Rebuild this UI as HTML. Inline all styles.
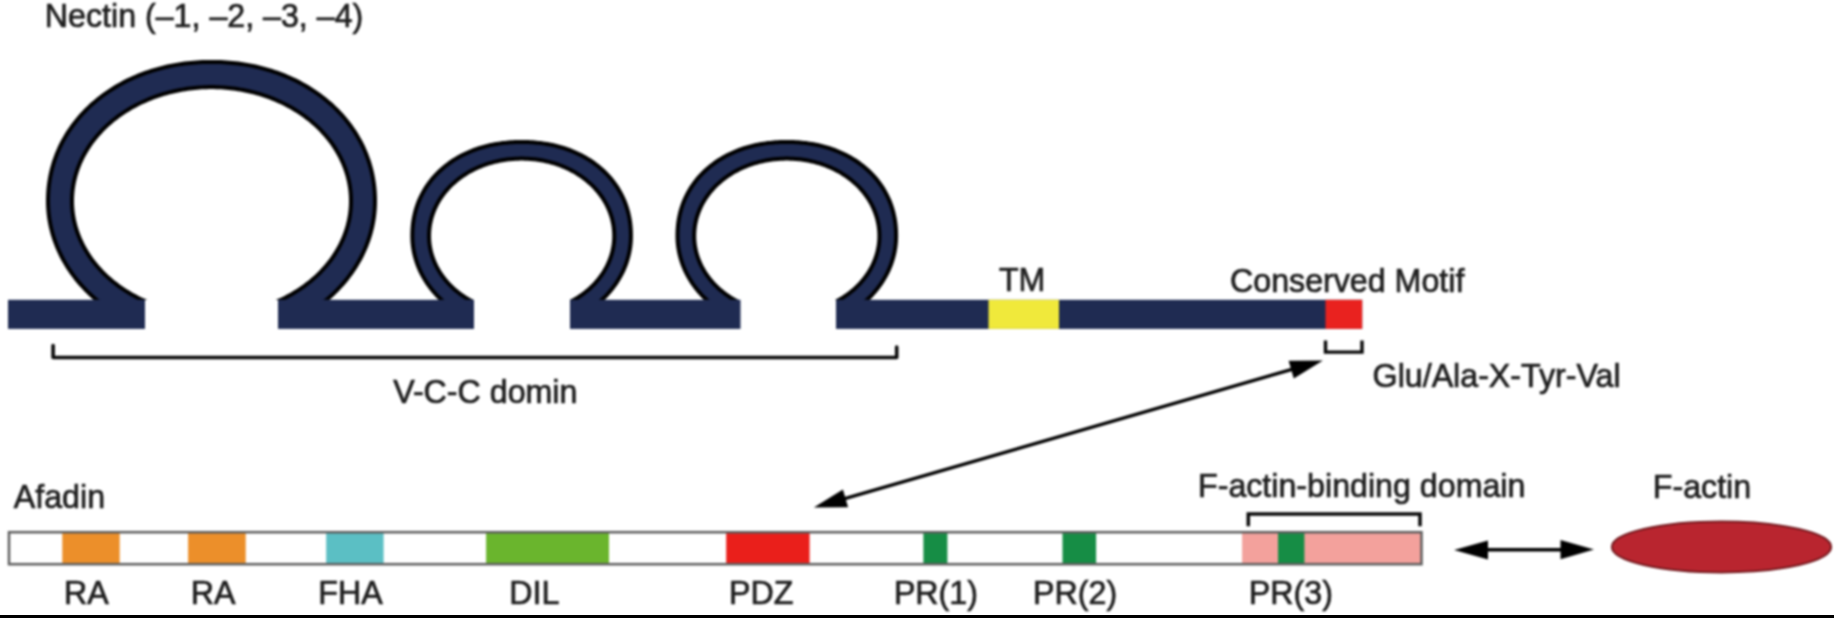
<!DOCTYPE html>
<html><head><meta charset="utf-8"><title>Nectin / Afadin</title>
<style>html,body{margin:0;padding:0;background:#fff;width:1834px;height:618px;overflow:hidden;position:relative}svg{display:block;filter:blur(1px)}
text{font-family:"Liberation Sans",sans-serif}</style></head>
<body><svg width="1834" height="618" viewBox="0 0 1834 618"><g><defs><clipPath id="cp"><rect x="0" y="0" width="1834" height="300"/></clipPath></defs><g clip-path="url(#cp)"><path d="M100.76,305.86 L98.63,304.19 L96.53,302.50 L94.47,300.77 L92.45,299.02 L90.46,297.23 L88.51,295.41 L86.60,293.57 L84.72,291.70 L82.88,289.80 L81.08,287.87 L79.33,285.92 L77.61,283.94 L75.93,281.93 L74.29,279.90 L72.70,277.85 L71.15,275.77 L69.64,273.67 L68.17,271.55 L66.75,269.41 L65.37,267.24 L64.04,265.06 L62.75,262.85 L61.51,260.63 L60.31,258.39 L59.16,256.13 L58.05,253.86 L56.99,251.57 L55.98,249.26 L55.02,246.94 L54.10,244.60 L53.23,242.25 L52.41,239.89 L51.64,237.52 L50.92,235.14 L50.24,232.74 L49.62,230.34 L49.04,227.92 L48.51,225.50 L48.04,223.07 L47.61,220.64 L47.23,218.20 L46.91,215.75 L46.63,213.30 L46.40,210.84 L46.23,208.38 L46.10,205.92 L46.03,203.46 L46.00,201.00 L46.00,201.00 L46.02,198.28 L46.10,195.66 L46.22,193.06 L46.39,190.50 L46.61,187.95 L46.88,185.42 L47.20,182.90 L47.57,180.40 L47.99,177.91 L48.45,175.43 L48.97,172.97 L49.53,170.52 L50.14,168.08 L50.80,165.66 L51.50,163.26 L52.26,160.87 L53.06,158.49 L53.91,156.13 L54.80,153.79 L55.74,151.46 L56.73,149.15 L57.77,146.86 L58.85,144.59 L59.97,142.34 L61.15,140.10 L62.36,137.89 L63.62,135.70 L64.93,133.52 L66.28,131.37 L67.67,129.25 L69.10,127.14 L70.58,125.06 L72.10,123.00 L73.67,120.97 L75.27,118.96 L76.91,116.98 L78.60,115.03 L80.32,113.10 L82.09,111.19 L83.89,109.32 L85.74,107.47 L87.62,105.66 L89.53,103.87 L91.49,102.11 L93.48,100.38 L95.51,98.68 L97.57,97.02 L99.67,95.38 L101.80,93.78 L103.97,92.21 L106.16,90.67 L108.40,89.16 L110.66,87.69 L112.95,86.26 L115.28,84.85 L117.63,83.49 L120.02,82.15 L122.43,80.86 L124.87,79.60 L127.34,78.37 L129.83,77.19 L132.36,76.04 L134.90,74.92 L137.48,73.85 L140.07,72.81 L142.69,71.81 L145.33,70.85 L148.00,69.93 L150.69,69.05 L153.39,68.21 L156.12,67.40 L158.87,66.64 L161.64,65.92 L164.43,65.24 L167.23,64.59 L170.05,63.99 L172.89,63.43 L175.75,62.91 L178.62,62.43 L181.51,61.99 L184.41,61.60 L187.33,61.24 L190.27,60.93 L193.22,60.65 L196.19,60.42 L199.18,60.24 L202.19,60.09 L205.23,59.98 L208.31,59.92 L211.50,59.90 L214.69,59.92 L217.77,59.98 L220.81,60.09 L223.82,60.24 L226.81,60.42 L229.78,60.65 L232.73,60.93 L235.67,61.24 L238.59,61.60 L241.49,61.99 L244.38,62.43 L247.25,62.91 L250.11,63.43 L252.95,63.99 L255.77,64.59 L258.57,65.24 L261.36,65.92 L264.13,66.64 L266.88,67.40 L269.61,68.21 L272.31,69.05 L275.00,69.93 L277.67,70.85 L280.31,71.81 L282.93,72.81 L285.52,73.85 L288.10,74.92 L290.64,76.04 L293.17,77.19 L295.66,78.37 L298.13,79.60 L300.57,80.86 L302.98,82.15 L305.37,83.49 L307.72,84.85 L310.05,86.26 L312.34,87.69 L314.60,89.16 L316.84,90.67 L319.03,92.21 L321.20,93.78 L323.33,95.38 L325.43,97.02 L327.49,98.68 L329.52,100.38 L331.51,102.11 L333.47,103.87 L335.38,105.66 L337.26,107.47 L339.11,109.32 L340.91,111.19 L342.68,113.10 L344.40,115.03 L346.09,116.98 L347.73,118.96 L349.33,120.97 L350.90,123.00 L352.42,125.06 L353.90,127.14 L355.33,129.25 L356.72,131.37 L358.07,133.52 L359.38,135.70 L360.64,137.89 L361.85,140.10 L363.03,142.34 L364.15,144.59 L365.23,146.86 L366.27,149.15 L367.26,151.46 L368.20,153.79 L369.09,156.13 L369.94,158.49 L370.74,160.87 L371.50,163.26 L372.20,165.66 L372.86,168.08 L373.47,170.52 L374.03,172.97 L374.55,175.43 L375.01,177.91 L375.43,180.40 L375.80,182.90 L376.12,185.42 L376.39,187.95 L376.61,190.50 L376.78,193.06 L376.90,195.66 L376.98,198.28 L377.00,201.00 L377.00,201.00 L376.97,203.46 L376.90,205.92 L376.77,208.38 L376.60,210.84 L376.37,213.30 L376.09,215.75 L375.77,218.20 L375.39,220.64 L374.96,223.07 L374.49,225.50 L373.96,227.92 L373.38,230.34 L372.76,232.74 L372.08,235.14 L371.36,237.52 L370.59,239.89 L369.77,242.25 L368.90,244.60 L367.98,246.94 L367.02,249.26 L366.01,251.57 L364.95,253.86 L363.84,256.13 L362.69,258.39 L361.49,260.63 L360.25,262.85 L358.96,265.06 L357.63,267.24 L356.25,269.41 L354.83,271.55 L353.36,273.67 L351.85,275.77 L350.30,277.85 L348.71,279.90 L347.07,281.93 L345.39,283.94 L343.67,285.92 L341.92,287.87 L340.12,289.80 L338.28,291.70 L336.40,293.57 L334.49,295.41 L332.54,297.23 L330.55,299.02 L328.53,300.77 L326.47,302.50 L324.37,304.19 L322.24,305.86 L322.24,306.00 L260.78,306.00 L260.78,305.47 L263.01,304.75 L265.23,304.00 L267.43,303.23 L269.61,302.42 L271.78,301.58 L273.92,300.70 L276.05,299.80 L278.16,298.87 L280.25,297.91 L282.32,296.92 L284.36,295.90 L286.39,294.85 L288.39,293.77 L290.37,292.66 L292.32,291.53 L294.25,290.37 L296.15,289.18 L298.03,287.96 L299.88,286.72 L301.71,285.45 L303.51,284.16 L305.27,282.84 L307.02,281.49 L308.73,280.13 L310.41,278.73 L312.06,277.32 L313.68,275.88 L315.27,274.41 L316.83,272.93 L318.36,271.42 L319.85,269.89 L321.31,268.34 L322.74,266.77 L324.13,265.18 L325.49,263.57 L326.82,261.95 L328.11,260.30 L329.36,258.63 L330.58,256.95 L331.76,255.25 L332.91,253.53 L334.01,251.80 L335.08,250.05 L336.12,248.29 L337.11,246.51 L338.07,244.72 L338.99,242.92 L339.87,241.10 L340.71,239.27 L341.51,237.43 L342.27,235.58 L342.99,233.72 L343.67,231.84 L344.31,229.96 L344.92,228.07 L345.48,226.17 L346.00,224.27 L346.47,222.35 L346.91,220.43 L347.31,218.51 L347.66,216.57 L347.98,214.64 L348.25,212.70 L348.48,210.75 L348.67,208.81 L348.81,206.86 L348.92,204.91 L348.98,202.95 L349.00,201.00 L349.00,201.00 L348.98,199.05 L348.92,197.09 L348.81,195.14 L348.67,193.19 L348.48,191.25 L348.25,189.30 L347.98,187.36 L347.66,185.43 L347.31,183.49 L346.91,181.57 L346.47,179.65 L346.00,177.73 L345.48,175.83 L344.92,173.93 L344.31,172.04 L343.67,170.16 L342.99,168.28 L342.27,166.42 L341.51,164.57 L340.71,162.73 L339.87,160.90 L338.99,159.08 L338.07,157.28 L337.11,155.49 L336.12,153.71 L335.08,151.95 L334.01,150.20 L332.91,148.47 L331.76,146.75 L330.58,145.05 L329.36,143.37 L328.11,141.70 L326.82,140.05 L325.49,138.43 L324.13,136.82 L322.74,135.23 L321.31,133.66 L319.85,132.11 L318.36,130.58 L316.83,129.07 L315.27,127.59 L313.68,126.12 L312.06,124.68 L310.41,123.27 L308.73,121.87 L307.02,120.51 L305.27,119.16 L303.51,117.84 L301.71,116.55 L299.88,115.28 L298.03,114.04 L296.15,112.82 L294.25,111.63 L292.32,110.47 L290.37,109.34 L288.39,108.23 L286.39,107.15 L284.36,106.10 L282.32,105.08 L280.25,104.09 L278.16,103.13 L276.05,102.20 L273.92,101.30 L271.78,100.42 L269.61,99.58 L267.43,98.77 L265.23,98.00 L263.01,97.25 L260.78,96.53 L258.53,95.85 L256.27,95.20 L253.99,94.58 L251.70,93.99 L249.40,93.43 L247.09,92.91 L244.76,92.42 L242.43,91.97 L240.09,91.55 L237.74,91.16 L235.38,90.80 L233.01,90.48 L230.64,90.19 L228.26,89.93 L225.87,89.71 L223.48,89.53 L221.09,89.37 L218.70,89.25 L216.30,89.17 L213.90,89.12 L211.50,89.10 L209.10,89.12 L206.70,89.17 L204.30,89.25 L201.91,89.37 L199.52,89.53 L197.13,89.71 L194.74,89.93 L192.36,90.19 L189.99,90.48 L187.62,90.80 L185.26,91.16 L182.91,91.55 L180.57,91.97 L178.24,92.42 L175.91,92.91 L173.60,93.43 L171.30,93.99 L169.01,94.58 L166.73,95.20 L164.47,95.85 L162.22,96.53 L159.99,97.25 L157.77,98.00 L155.57,98.77 L153.39,99.58 L151.22,100.42 L149.08,101.30 L146.95,102.20 L144.84,103.13 L142.75,104.09 L140.68,105.08 L138.64,106.10 L136.61,107.15 L134.61,108.23 L132.63,109.34 L130.68,110.47 L128.75,111.63 L126.85,112.82 L124.97,114.04 L123.12,115.28 L121.29,116.55 L119.49,117.84 L117.73,119.16 L115.98,120.51 L114.27,121.87 L112.59,123.27 L110.94,124.68 L109.32,126.12 L107.73,127.59 L106.17,129.07 L104.64,130.58 L103.15,132.11 L101.69,133.66 L100.26,135.23 L98.87,136.82 L97.51,138.43 L96.18,140.05 L94.89,141.70 L93.64,143.37 L92.42,145.05 L91.24,146.75 L90.09,148.47 L88.99,150.20 L87.92,151.95 L86.88,153.71 L85.89,155.49 L84.93,157.28 L84.01,159.08 L83.13,160.90 L82.29,162.73 L81.49,164.57 L80.73,166.42 L80.01,168.28 L79.33,170.16 L78.69,172.04 L78.08,173.93 L77.52,175.83 L77.00,177.73 L76.53,179.65 L76.09,181.57 L75.69,183.49 L75.34,185.43 L75.02,187.36 L74.75,189.30 L74.52,191.25 L74.33,193.19 L74.19,195.14 L74.08,197.09 L74.02,199.05 L74.00,201.00 L74.00,201.00 L74.02,202.95 L74.08,204.91 L74.19,206.86 L74.33,208.81 L74.52,210.75 L74.75,212.70 L75.02,214.64 L75.34,216.57 L75.69,218.51 L76.09,220.43 L76.53,222.35 L77.00,224.27 L77.52,226.17 L78.08,228.07 L78.69,229.96 L79.33,231.84 L80.01,233.72 L80.73,235.58 L81.49,237.43 L82.29,239.27 L83.13,241.10 L84.01,242.92 L84.93,244.72 L85.89,246.51 L86.88,248.29 L87.92,250.05 L88.99,251.80 L90.09,253.53 L91.24,255.25 L92.42,256.95 L93.64,258.63 L94.89,260.30 L96.18,261.95 L97.51,263.57 L98.87,265.18 L100.26,266.77 L101.69,268.34 L103.15,269.89 L104.64,271.42 L106.17,272.93 L107.73,274.41 L109.32,275.88 L110.94,277.32 L112.59,278.73 L114.27,280.13 L115.98,281.49 L117.73,282.84 L119.49,284.16 L121.29,285.45 L123.12,286.72 L124.97,287.96 L126.85,289.18 L128.75,290.37 L130.68,291.53 L132.63,292.66 L134.61,293.77 L136.61,294.85 L138.64,295.90 L140.68,296.92 L142.75,297.91 L144.84,298.87 L146.95,299.80 L149.08,300.70 L151.22,301.58 L153.39,302.42 L155.57,303.23 L157.77,304.00 L159.99,304.75 L162.22,305.47 L162.22,306.00 L100.76,306.00 Z" fill="#000"/><path d="M105.55,304.47 L103.44,302.89 L101.36,301.27 L99.31,299.62 L97.30,297.94 L95.33,296.24 L93.39,294.50 L91.48,292.74 L89.61,290.95 L87.78,289.13 L85.99,287.28 L84.24,285.41 L82.52,283.51 L80.84,281.59 L79.21,279.64 L77.61,277.67 L76.05,275.67 L74.54,273.65 L73.07,271.61 L71.64,269.55 L70.25,267.47 L68.90,265.36 L67.60,263.24 L66.34,261.10 L65.13,258.94 L63.96,256.76 L62.84,254.57 L61.76,252.36 L60.73,250.13 L59.74,247.89 L58.80,245.64 L57.90,243.37 L57.06,241.08 L56.26,238.79 L55.50,236.48 L54.80,234.17 L54.14,231.84 L53.53,229.50 L52.97,227.16 L52.45,224.81 L51.99,222.45 L51.57,220.08 L51.20,217.71 L50.88,215.33 L50.61,212.95 L50.39,210.56 L50.22,208.18 L50.10,205.78 L50.02,203.39 L50.00,201.00 L50.00,201.00 L50.02,198.36 L50.10,195.81 L50.22,193.29 L50.38,190.79 L50.60,188.32 L50.86,185.86 L51.17,183.41 L51.53,180.98 L51.94,178.56 L52.39,176.15 L52.90,173.76 L53.44,171.38 L54.04,169.02 L54.68,166.66 L55.37,164.33 L56.11,162.00 L56.89,159.70 L57.72,157.40 L58.59,155.13 L59.51,152.87 L60.47,150.62 L61.48,148.40 L62.54,146.19 L63.64,144.00 L64.78,141.83 L65.97,139.68 L67.20,137.55 L68.47,135.44 L69.79,133.35 L71.15,131.28 L72.55,129.24 L73.99,127.21 L75.47,125.22 L77.00,123.24 L78.56,121.29 L80.17,119.36 L81.81,117.46 L83.49,115.59 L85.22,113.74 L86.98,111.92 L88.77,110.12 L90.61,108.36 L92.48,106.62 L94.39,104.91 L96.33,103.23 L98.31,101.58 L100.32,99.96 L102.37,98.37 L104.45,96.82 L106.56,95.29 L108.71,93.80 L110.89,92.33 L113.10,90.90 L115.33,89.51 L117.60,88.15 L119.90,86.82 L122.23,85.52 L124.58,84.26 L126.96,83.04 L129.37,81.85 L131.81,80.70 L134.27,79.58 L136.75,78.50 L139.26,77.45 L141.80,76.45 L144.35,75.48 L146.93,74.54 L149.53,73.65 L152.16,72.79 L154.80,71.97 L157.46,71.19 L160.14,70.45 L162.84,69.75 L165.56,69.08 L168.30,68.46 L171.05,67.87 L173.82,67.33 L176.61,66.82 L179.41,66.36 L182.23,65.93 L185.07,65.55 L187.92,65.20 L190.78,64.90 L193.66,64.63 L196.56,64.41 L199.48,64.23 L202.42,64.08 L205.38,63.98 L208.39,63.92 L211.50,63.90 L214.61,63.92 L217.62,63.98 L220.58,64.08 L223.52,64.23 L226.44,64.41 L229.34,64.63 L232.22,64.90 L235.08,65.20 L237.93,65.55 L240.77,65.93 L243.59,66.36 L246.39,66.82 L249.18,67.33 L251.95,67.87 L254.70,68.46 L257.44,69.08 L260.16,69.75 L262.86,70.45 L265.54,71.19 L268.20,71.97 L270.84,72.79 L273.47,73.65 L276.07,74.54 L278.65,75.48 L281.20,76.45 L283.74,77.45 L286.25,78.50 L288.73,79.58 L291.19,80.70 L293.63,81.85 L296.04,83.04 L298.42,84.26 L300.77,85.52 L303.10,86.82 L305.40,88.15 L307.67,89.51 L309.90,90.90 L312.11,92.33 L314.29,93.80 L316.44,95.29 L318.55,96.82 L320.63,98.37 L322.68,99.96 L324.69,101.58 L326.67,103.23 L328.61,104.91 L330.52,106.62 L332.39,108.36 L334.23,110.12 L336.02,111.92 L337.78,113.74 L339.51,115.59 L341.19,117.46 L342.83,119.36 L344.44,121.29 L346.00,123.24 L347.53,125.22 L349.01,127.21 L350.45,129.24 L351.85,131.28 L353.21,133.35 L354.53,135.44 L355.80,137.55 L357.03,139.68 L358.22,141.83 L359.36,144.00 L360.46,146.19 L361.52,148.40 L362.53,150.62 L363.49,152.87 L364.41,155.13 L365.28,157.40 L366.11,159.70 L366.89,162.00 L367.63,164.33 L368.32,166.66 L368.96,169.02 L369.56,171.38 L370.10,173.76 L370.61,176.15 L371.06,178.56 L371.47,180.98 L371.83,183.41 L372.14,185.86 L372.40,188.32 L372.62,190.79 L372.78,193.29 L372.90,195.81 L372.98,198.36 L373.00,201.00 L373.00,201.00 L372.98,203.39 L372.90,205.78 L372.78,208.18 L372.61,210.56 L372.39,212.95 L372.12,215.33 L371.80,217.71 L371.43,220.08 L371.01,222.45 L370.55,224.81 L370.03,227.16 L369.47,229.50 L368.86,231.84 L368.20,234.17 L367.50,236.48 L366.74,238.79 L365.94,241.08 L365.10,243.37 L364.20,245.64 L363.26,247.89 L362.27,250.13 L361.24,252.36 L360.16,254.57 L359.04,256.76 L357.87,258.94 L356.66,261.10 L355.40,263.24 L354.10,265.36 L352.75,267.47 L351.36,269.55 L349.93,271.61 L348.46,273.65 L346.95,275.67 L345.39,277.67 L343.79,279.64 L342.16,281.59 L340.48,283.51 L338.76,285.41 L337.01,287.28 L335.22,289.13 L333.39,290.95 L331.52,292.74 L329.61,294.50 L327.67,296.24 L325.70,297.94 L323.69,299.62 L321.64,301.27 L319.56,302.89 L317.45,304.47 L317.45,306.00 L273.53,306.00 L273.53,305.17 L275.74,304.27 L277.93,303.33 L280.10,302.37 L282.25,301.37 L284.38,300.35 L286.48,299.29 L288.57,298.20 L290.63,297.09 L292.66,295.94 L294.67,294.77 L296.66,293.56 L298.62,292.33 L300.55,291.07 L302.45,289.78 L304.33,288.47 L306.18,287.13 L308.00,285.76 L309.79,284.37 L311.56,282.95 L313.29,281.51 L314.99,280.04 L316.65,278.55 L318.29,277.04 L319.90,275.50 L321.47,273.94 L323.00,272.36 L324.51,270.75 L325.98,269.12 L327.41,267.48 L328.81,265.81 L330.17,264.12 L331.50,262.42 L332.79,260.69 L334.04,258.95 L335.26,257.19 L336.44,255.41 L337.58,253.62 L338.68,251.81 L339.74,249.98 L340.77,248.14 L341.75,246.29 L342.70,244.42 L343.60,242.53 L344.47,240.64 L345.29,238.73 L346.07,236.82 L346.82,234.89 L347.52,232.95 L348.18,231.00 L348.80,229.04 L349.37,227.07 L349.91,225.10 L350.40,223.11 L350.85,221.13 L351.26,219.13 L351.62,217.13 L351.95,215.12 L352.22,213.11 L352.46,211.10 L352.66,209.08 L352.81,207.07 L352.91,205.04 L352.98,203.02 L353.00,201.00 L353.00,201.00 L352.98,198.98 L352.91,196.96 L352.81,194.93 L352.66,192.92 L352.46,190.90 L352.22,188.89 L351.95,186.88 L351.62,184.87 L351.26,182.87 L350.85,180.87 L350.40,178.89 L349.91,176.90 L349.37,174.93 L348.80,172.96 L348.18,171.00 L347.52,169.05 L346.82,167.11 L346.07,165.18 L345.29,163.27 L344.47,161.36 L343.60,159.47 L342.70,157.58 L341.75,155.71 L340.77,153.86 L339.74,152.02 L338.68,150.19 L337.58,148.38 L336.44,146.59 L335.26,144.81 L334.04,143.05 L332.79,141.31 L331.50,139.58 L330.17,137.88 L328.81,136.19 L327.41,134.52 L325.98,132.88 L324.51,131.25 L323.00,129.64 L321.47,128.06 L319.90,126.50 L318.29,124.96 L316.65,123.45 L314.99,121.96 L313.29,120.49 L311.56,119.05 L309.79,117.63 L308.00,116.24 L306.18,114.87 L304.33,113.53 L302.45,112.22 L300.55,110.93 L298.62,109.67 L296.66,108.44 L294.67,107.23 L292.66,106.06 L290.63,104.91 L288.57,103.80 L286.48,102.71 L284.38,101.65 L282.25,100.63 L280.10,99.63 L277.93,98.67 L275.74,97.73 L273.53,96.83 L271.30,95.96 L269.05,95.12 L266.79,94.31 L264.51,93.54 L262.21,92.80 L259.90,92.09 L257.57,91.41 L255.23,90.77 L252.87,90.16 L250.50,89.59 L248.12,89.05 L245.73,88.54 L243.33,88.07 L240.92,87.63 L238.50,87.23 L236.07,86.86 L233.64,86.53 L231.19,86.23 L228.74,85.96 L226.29,85.73 L223.83,85.54 L221.37,85.38 L218.91,85.26 L216.44,85.17 L213.97,85.12 L211.50,85.10 L209.03,85.12 L206.56,85.17 L204.09,85.26 L201.63,85.38 L199.17,85.54 L196.71,85.73 L194.26,85.96 L191.81,86.23 L189.36,86.53 L186.93,86.86 L184.50,87.23 L182.08,87.63 L179.67,88.07 L177.27,88.54 L174.88,89.05 L172.50,89.59 L170.13,90.16 L167.77,90.77 L165.43,91.41 L163.10,92.09 L160.79,92.80 L158.49,93.54 L156.21,94.31 L153.95,95.12 L151.70,95.96 L149.47,96.83 L147.26,97.73 L145.07,98.67 L142.90,99.63 L140.75,100.63 L138.62,101.65 L136.52,102.71 L134.43,103.80 L132.37,104.91 L130.34,106.06 L128.33,107.23 L126.34,108.44 L124.38,109.67 L122.45,110.93 L120.55,112.22 L118.67,113.53 L116.82,114.87 L115.00,116.24 L113.21,117.63 L111.44,119.05 L109.71,120.49 L108.01,121.96 L106.35,123.45 L104.71,124.96 L103.10,126.50 L101.53,128.06 L100.00,129.64 L98.49,131.25 L97.02,132.88 L95.59,134.52 L94.19,136.19 L92.83,137.88 L91.50,139.58 L90.21,141.31 L88.96,143.05 L87.74,144.81 L86.56,146.59 L85.42,148.38 L84.32,150.19 L83.26,152.02 L82.23,153.86 L81.25,155.71 L80.30,157.58 L79.40,159.47 L78.53,161.36 L77.71,163.27 L76.93,165.18 L76.18,167.11 L75.48,169.05 L74.82,171.00 L74.20,172.96 L73.63,174.93 L73.09,176.90 L72.60,178.89 L72.15,180.87 L71.74,182.87 L71.38,184.87 L71.05,186.88 L70.78,188.89 L70.54,190.90 L70.34,192.92 L70.19,194.93 L70.09,196.96 L70.02,198.98 L70.00,201.00 L70.00,201.00 L70.02,203.02 L70.09,205.04 L70.19,207.07 L70.34,209.08 L70.54,211.10 L70.78,213.11 L71.05,215.12 L71.38,217.13 L71.74,219.13 L72.15,221.13 L72.60,223.11 L73.09,225.10 L73.63,227.07 L74.20,229.04 L74.82,231.00 L75.48,232.95 L76.18,234.89 L76.93,236.82 L77.71,238.73 L78.53,240.64 L79.40,242.53 L80.30,244.42 L81.25,246.29 L82.23,248.14 L83.26,249.98 L84.32,251.81 L85.42,253.62 L86.56,255.41 L87.74,257.19 L88.96,258.95 L90.21,260.69 L91.50,262.42 L92.83,264.12 L94.19,265.81 L95.59,267.48 L97.02,269.12 L98.49,270.75 L100.00,272.36 L101.53,273.94 L103.10,275.50 L104.71,277.04 L106.35,278.55 L108.01,280.04 L109.71,281.51 L111.44,282.95 L113.21,284.37 L115.00,285.76 L116.82,287.13 L118.67,288.47 L120.55,289.78 L122.45,291.07 L124.38,292.33 L126.34,293.56 L128.33,294.77 L130.34,295.94 L132.37,297.09 L134.43,298.20 L136.52,299.29 L138.62,300.35 L140.75,301.37 L142.90,302.37 L145.07,303.33 L147.26,304.27 L149.47,305.17 L149.47,306.00 L105.55,306.00 Z" fill="#1f2b52"/><path d="M444.33,305.06 L442.95,303.88 L441.59,302.69 L440.25,301.47 L438.94,300.24 L437.65,298.98 L436.39,297.71 L435.15,296.41 L433.94,295.10 L432.76,293.77 L431.61,292.43 L430.48,291.06 L429.38,289.68 L428.31,288.29 L427.26,286.87 L426.25,285.44 L425.26,284.00 L424.30,282.54 L423.38,281.07 L422.48,279.58 L421.61,278.08 L420.78,276.57 L419.97,275.05 L419.20,273.51 L418.45,271.96 L417.74,270.40 L417.06,268.83 L416.41,267.25 L415.80,265.67 L415.21,264.07 L414.66,262.46 L414.14,260.85 L413.66,259.22 L413.20,257.60 L412.78,255.96 L412.39,254.32 L412.04,252.67 L411.72,251.02 L411.43,249.36 L411.18,247.70 L410.96,246.03 L410.77,244.37 L410.62,242.70 L410.50,241.02 L410.42,239.35 L410.37,237.68 L410.35,236.00 L410.35,236.00 L410.37,233.89 L410.41,231.95 L410.49,230.06 L410.61,228.21 L410.75,226.39 L410.93,224.60 L411.13,222.82 L411.37,221.06 L411.64,219.32 L411.95,217.59 L412.28,215.88 L412.65,214.18 L413.04,212.50 L413.47,210.83 L413.93,209.18 L414.42,207.54 L414.94,205.91 L415.50,204.30 L416.08,202.70 L416.69,201.11 L417.34,199.54 L418.01,197.98 L418.72,196.44 L419.45,194.91 L420.21,193.40 L421.01,191.91 L421.83,190.42 L422.68,188.96 L423.56,187.51 L424.47,186.08 L425.41,184.66 L426.38,183.27 L427.37,181.89 L428.39,180.52 L429.44,179.18 L430.52,177.85 L431.62,176.54 L432.75,175.25 L433.91,173.98 L435.09,172.73 L436.30,171.50 L437.54,170.29 L438.80,169.09 L440.08,167.92 L441.39,166.77 L442.72,165.64 L444.08,164.54 L445.46,163.45 L446.87,162.38 L448.30,161.34 L449.75,160.32 L451.22,159.32 L452.71,158.35 L454.23,157.40 L455.77,156.47 L457.33,155.56 L458.91,154.68 L460.51,153.82 L462.13,152.99 L463.77,152.18 L465.43,151.40 L467.11,150.64 L468.81,149.90 L470.53,149.19 L472.26,148.51 L474.02,147.85 L475.79,147.22 L477.57,146.61 L479.38,146.03 L481.20,145.47 L483.04,144.94 L484.89,144.44 L486.76,143.96 L488.65,143.51 L490.55,143.09 L492.47,142.69 L494.41,142.32 L496.36,141.98 L498.33,141.66 L500.31,141.38 L502.31,141.12 L504.33,140.88 L506.37,140.68 L508.43,140.50 L510.51,140.34 L512.62,140.22 L514.77,140.12 L516.95,140.06 L519.21,140.01 L521.65,140.00 L524.09,140.01 L526.35,140.06 L528.53,140.12 L530.68,140.22 L532.79,140.34 L534.87,140.50 L536.93,140.68 L538.97,140.88 L540.99,141.12 L542.99,141.38 L544.97,141.66 L546.94,141.98 L548.89,142.32 L550.83,142.69 L552.75,143.09 L554.65,143.51 L556.54,143.96 L558.41,144.44 L560.26,144.94 L562.10,145.47 L563.92,146.03 L565.73,146.61 L567.51,147.22 L569.28,147.85 L571.04,148.51 L572.77,149.19 L574.49,149.90 L576.19,150.64 L577.87,151.40 L579.53,152.18 L581.17,152.99 L582.79,153.82 L584.39,154.68 L585.97,155.56 L587.53,156.47 L589.07,157.40 L590.59,158.35 L592.08,159.32 L593.55,160.32 L595.00,161.34 L596.43,162.38 L597.84,163.45 L599.22,164.54 L600.58,165.64 L601.91,166.77 L603.22,167.92 L604.50,169.09 L605.76,170.29 L607.00,171.50 L608.21,172.73 L609.39,173.98 L610.55,175.25 L611.68,176.54 L612.78,177.85 L613.86,179.18 L614.91,180.52 L615.93,181.89 L616.92,183.27 L617.89,184.66 L618.83,186.08 L619.74,187.51 L620.62,188.96 L621.47,190.42 L622.29,191.91 L623.09,193.40 L623.85,194.91 L624.58,196.44 L625.29,197.98 L625.96,199.54 L626.61,201.11 L627.22,202.70 L627.80,204.30 L628.36,205.91 L628.88,207.54 L629.37,209.18 L629.83,210.83 L630.26,212.50 L630.65,214.18 L631.02,215.88 L631.35,217.59 L631.66,219.32 L631.93,221.06 L632.17,222.82 L632.37,224.60 L632.55,226.39 L632.69,228.21 L632.81,230.06 L632.89,231.95 L632.93,233.89 L632.95,236.00 L632.95,236.00 L632.93,237.68 L632.88,239.35 L632.80,241.02 L632.68,242.70 L632.53,244.37 L632.34,246.03 L632.12,247.70 L631.87,249.36 L631.58,251.02 L631.26,252.67 L630.91,254.32 L630.52,255.96 L630.10,257.60 L629.64,259.22 L629.16,260.85 L628.64,262.46 L628.09,264.07 L627.50,265.67 L626.89,267.25 L626.24,268.83 L625.56,270.40 L624.85,271.96 L624.10,273.51 L623.33,275.05 L622.52,276.57 L621.69,278.08 L620.82,279.58 L619.92,281.07 L619.00,282.54 L618.04,284.00 L617.05,285.44 L616.04,286.87 L614.99,288.29 L613.92,289.68 L612.82,291.06 L611.69,292.43 L610.54,293.77 L609.36,295.10 L608.15,296.41 L606.91,297.71 L605.65,298.98 L604.36,300.24 L603.05,301.47 L601.71,302.69 L600.35,303.88 L598.97,305.06 L598.97,306.00 L555.59,306.00 L555.59,305.91 L557.05,305.41 L558.50,304.88 L559.94,304.34 L561.37,303.77 L562.78,303.18 L564.18,302.57 L565.57,301.95 L566.95,301.30 L568.31,300.63 L569.66,299.94 L570.99,299.24 L572.31,298.51 L573.62,297.76 L574.90,297.00 L576.17,296.22 L577.43,295.42 L578.67,294.60 L579.89,293.76 L581.09,292.91 L582.27,292.03 L583.44,291.14 L584.59,290.24 L585.71,289.32 L586.82,288.38 L587.91,287.42 L588.98,286.45 L590.03,285.47 L591.05,284.47 L592.06,283.45 L593.04,282.42 L594.01,281.38 L594.95,280.32 L595.87,279.25 L596.76,278.16 L597.63,277.07 L598.48,275.96 L599.31,274.83 L600.11,273.70 L600.89,272.55 L601.65,271.40 L602.38,270.23 L603.08,269.05 L603.76,267.87 L604.42,266.67 L605.05,265.46 L605.65,264.25 L606.23,263.02 L606.79,261.79 L607.31,260.55 L607.82,259.30 L608.29,258.04 L608.74,256.78 L609.16,255.51 L609.56,254.24 L609.93,252.96 L610.27,251.68 L610.59,250.39 L610.87,249.09 L611.13,247.80 L611.37,246.49 L611.57,245.19 L611.75,243.88 L611.91,242.57 L612.03,241.26 L612.13,239.95 L612.19,238.63 L612.24,237.32 L612.25,236.00 L612.25,236.00 L612.24,234.63 L612.20,233.28 L612.13,231.94 L612.03,230.60 L611.91,229.27 L611.76,227.94 L611.58,226.62 L611.38,225.30 L611.15,223.99 L610.89,222.68 L610.60,221.38 L610.29,220.08 L609.95,218.79 L609.59,217.50 L609.19,216.22 L608.77,214.95 L608.33,213.69 L607.86,212.43 L607.36,211.18 L606.84,209.94 L606.29,208.70 L605.72,207.48 L605.12,206.26 L604.49,205.06 L603.84,203.86 L603.17,202.68 L602.47,201.50 L601.74,200.34 L601.00,199.18 L600.22,198.04 L599.43,196.91 L598.61,195.79 L597.77,194.69 L596.90,193.59 L596.01,192.51 L595.10,191.45 L594.17,190.39 L593.21,189.36 L592.24,188.33 L591.24,187.32 L590.22,186.33 L589.18,185.35 L588.12,184.38 L587.04,183.43 L585.93,182.50 L584.81,181.58 L583.67,180.68 L582.51,179.80 L581.34,178.94 L580.14,178.09 L578.93,177.26 L577.70,176.44 L576.45,175.65 L575.18,174.87 L573.90,174.11 L572.61,173.37 L571.29,172.65 L569.96,171.95 L568.62,171.27 L567.26,170.61 L565.89,169.97 L564.50,169.34 L563.10,168.74 L561.69,168.16 L560.27,167.60 L558.83,167.06 L557.38,166.54 L555.92,166.04 L554.45,165.56 L552.97,165.10 L551.48,164.67 L549.97,164.25 L548.46,163.86 L546.94,163.49 L545.41,163.14 L543.88,162.82 L542.33,162.51 L540.78,162.23 L539.22,161.97 L537.66,161.73 L536.09,161.52 L534.51,161.33 L532.92,161.16 L531.33,161.01 L529.74,160.88 L528.14,160.78 L526.53,160.70 L524.92,160.65 L523.30,160.61 L521.65,160.60 L520.00,160.61 L518.38,160.65 L516.77,160.70 L515.16,160.78 L513.56,160.88 L511.97,161.01 L510.38,161.16 L508.79,161.33 L507.21,161.52 L505.64,161.73 L504.08,161.97 L502.52,162.23 L500.97,162.51 L499.42,162.82 L497.89,163.14 L496.36,163.49 L494.84,163.86 L493.33,164.25 L491.82,164.67 L490.33,165.10 L488.85,165.56 L487.38,166.04 L485.92,166.54 L484.47,167.06 L483.03,167.60 L481.61,168.16 L480.20,168.74 L478.80,169.34 L477.41,169.97 L476.04,170.61 L474.68,171.27 L473.34,171.95 L472.01,172.65 L470.69,173.37 L469.40,174.11 L468.12,174.87 L466.85,175.65 L465.60,176.44 L464.37,177.26 L463.16,178.09 L461.96,178.94 L460.79,179.80 L459.63,180.68 L458.49,181.58 L457.37,182.50 L456.26,183.43 L455.18,184.38 L454.12,185.35 L453.08,186.33 L452.06,187.32 L451.06,188.33 L450.09,189.36 L449.13,190.39 L448.20,191.45 L447.29,192.51 L446.40,193.59 L445.53,194.69 L444.69,195.79 L443.87,196.91 L443.08,198.04 L442.30,199.18 L441.56,200.34 L440.83,201.50 L440.13,202.68 L439.46,203.86 L438.81,205.06 L438.18,206.26 L437.58,207.48 L437.01,208.70 L436.46,209.94 L435.94,211.18 L435.44,212.43 L434.97,213.69 L434.53,214.95 L434.11,216.22 L433.71,217.50 L433.35,218.79 L433.01,220.08 L432.70,221.38 L432.41,222.68 L432.15,223.99 L431.92,225.30 L431.72,226.62 L431.54,227.94 L431.39,229.27 L431.27,230.60 L431.17,231.94 L431.10,233.28 L431.06,234.63 L431.05,236.00 L431.05,236.00 L431.06,237.32 L431.11,238.63 L431.17,239.95 L431.27,241.26 L431.39,242.57 L431.55,243.88 L431.73,245.19 L431.93,246.49 L432.17,247.80 L432.43,249.09 L432.71,250.39 L433.03,251.68 L433.37,252.96 L433.74,254.24 L434.14,255.51 L434.56,256.78 L435.01,258.04 L435.48,259.30 L435.99,260.55 L436.51,261.79 L437.07,263.02 L437.65,264.25 L438.25,265.46 L438.88,266.67 L439.54,267.87 L440.22,269.05 L440.92,270.23 L441.65,271.40 L442.41,272.55 L443.19,273.70 L443.99,274.83 L444.82,275.96 L445.67,277.07 L446.54,278.16 L447.43,279.25 L448.35,280.32 L449.29,281.38 L450.26,282.42 L451.24,283.45 L452.25,284.47 L453.27,285.47 L454.32,286.45 L455.39,287.42 L456.48,288.38 L457.59,289.32 L458.71,290.24 L459.86,291.14 L461.03,292.03 L462.21,292.91 L463.41,293.76 L464.63,294.60 L465.87,295.42 L467.13,296.22 L468.40,297.00 L469.68,297.76 L470.99,298.51 L472.31,299.24 L473.64,299.94 L474.99,300.63 L476.35,301.30 L477.73,301.95 L479.12,302.57 L480.52,303.18 L481.93,303.77 L483.36,304.34 L484.80,304.88 L486.25,305.41 L487.71,305.91 L487.71,306.00 L444.33,306.00 Z" fill="#000"/><path d="M451.25,305.43 L449.85,304.37 L448.47,303.28 L447.11,302.18 L445.78,301.05 L444.46,299.91 L443.18,298.74 L441.91,297.56 L440.67,296.36 L439.45,295.14 L438.26,293.90 L437.10,292.64 L435.96,291.37 L434.84,290.08 L433.75,288.77 L432.69,287.45 L431.66,286.11 L430.65,284.75 L429.68,283.38 L428.73,282.00 L427.80,280.60 L426.91,279.19 L426.04,277.77 L425.21,276.33 L424.40,274.88 L423.63,273.42 L422.88,271.95 L422.16,270.46 L421.48,268.97 L420.82,267.47 L420.20,265.95 L419.60,264.43 L419.04,262.90 L418.51,261.36 L418.01,259.81 L417.54,258.26 L417.10,256.70 L416.69,255.13 L416.32,253.55 L415.98,251.98 L415.67,250.39 L415.39,248.80 L415.15,247.21 L414.94,245.62 L414.76,244.02 L414.61,242.42 L414.50,240.81 L414.42,239.21 L414.37,237.61 L414.35,236.00 L414.35,236.00 L414.37,233.98 L414.41,232.12 L414.49,230.31 L414.60,228.54 L414.74,226.79 L414.90,225.07 L415.10,223.37 L415.34,221.68 L415.60,220.01 L415.89,218.36 L416.21,216.72 L416.56,215.09 L416.95,213.48 L417.36,211.88 L417.80,210.30 L418.28,208.72 L418.78,207.16 L419.31,205.62 L419.87,204.08 L420.47,202.56 L421.09,201.06 L421.74,199.57 L422.42,198.09 L423.12,196.63 L423.86,195.18 L424.63,193.74 L425.42,192.32 L426.24,190.92 L427.09,189.53 L427.97,188.16 L428.87,186.80 L429.80,185.46 L430.76,184.14 L431.75,182.83 L432.76,181.54 L433.79,180.27 L434.86,179.02 L435.95,177.78 L437.06,176.56 L438.20,175.37 L439.37,174.19 L440.56,173.02 L441.77,171.88 L443.01,170.76 L444.27,169.66 L445.56,168.58 L446.87,167.51 L448.20,166.47 L449.56,165.45 L450.93,164.45 L452.33,163.47 L453.75,162.52 L455.19,161.58 L456.65,160.67 L458.14,159.78 L459.64,158.91 L461.17,158.07 L462.71,157.25 L464.27,156.45 L465.85,155.67 L467.45,154.92 L469.07,154.19 L470.71,153.49 L472.36,152.81 L474.04,152.15 L475.73,151.52 L477.43,150.92 L479.16,150.33 L480.90,149.78 L482.65,149.24 L484.43,148.74 L486.21,148.25 L488.02,147.80 L489.84,147.37 L491.67,146.96 L493.52,146.58 L495.39,146.23 L497.27,145.90 L499.16,145.60 L501.08,145.32 L503.01,145.07 L504.95,144.84 L506.92,144.65 L508.90,144.48 L510.91,144.33 L512.95,144.21 L515.01,144.12 L517.12,144.05 L519.30,144.01 L521.65,144.00 L524.00,144.01 L526.18,144.05 L528.29,144.12 L530.35,144.21 L532.39,144.33 L534.40,144.48 L536.38,144.65 L538.35,144.84 L540.29,145.07 L542.22,145.32 L544.14,145.60 L546.03,145.90 L547.91,146.23 L549.78,146.58 L551.63,146.96 L553.46,147.37 L555.28,147.80 L557.09,148.25 L558.87,148.74 L560.65,149.24 L562.40,149.78 L564.14,150.33 L565.87,150.92 L567.57,151.52 L569.26,152.15 L570.94,152.81 L572.59,153.49 L574.23,154.19 L575.85,154.92 L577.45,155.67 L579.03,156.45 L580.59,157.25 L582.13,158.07 L583.66,158.91 L585.16,159.78 L586.65,160.67 L588.11,161.58 L589.55,162.52 L590.97,163.47 L592.37,164.45 L593.74,165.45 L595.10,166.47 L596.43,167.51 L597.74,168.58 L599.03,169.66 L600.29,170.76 L601.53,171.88 L602.74,173.02 L603.93,174.19 L605.10,175.37 L606.24,176.56 L607.35,177.78 L608.44,179.02 L609.51,180.27 L610.54,181.54 L611.55,182.83 L612.54,184.14 L613.50,185.46 L614.43,186.80 L615.33,188.16 L616.21,189.53 L617.06,190.92 L617.88,192.32 L618.67,193.74 L619.44,195.18 L620.18,196.63 L620.88,198.09 L621.56,199.57 L622.21,201.06 L622.83,202.56 L623.43,204.08 L623.99,205.62 L624.52,207.16 L625.02,208.72 L625.50,210.30 L625.94,211.88 L626.35,213.48 L626.74,215.09 L627.09,216.72 L627.41,218.36 L627.70,220.01 L627.96,221.68 L628.20,223.37 L628.40,225.07 L628.56,226.79 L628.70,228.54 L628.81,230.31 L628.89,232.12 L628.93,233.98 L628.95,236.00 L628.95,236.00 L628.93,237.61 L628.88,239.21 L628.80,240.81 L628.69,242.42 L628.54,244.02 L628.36,245.62 L628.15,247.21 L627.91,248.80 L627.63,250.39 L627.32,251.98 L626.98,253.55 L626.61,255.13 L626.20,256.70 L625.76,258.26 L625.29,259.81 L624.79,261.36 L624.26,262.90 L623.70,264.43 L623.10,265.95 L622.48,267.47 L621.82,268.97 L621.14,270.46 L620.42,271.95 L619.67,273.42 L618.90,274.88 L618.09,276.33 L617.26,277.77 L616.39,279.19 L615.50,280.60 L614.57,282.00 L613.62,283.38 L612.65,284.75 L611.64,286.11 L610.61,287.45 L609.55,288.77 L608.46,290.08 L607.34,291.37 L606.20,292.64 L605.04,293.90 L603.85,295.14 L602.63,296.36 L601.39,297.56 L600.12,298.74 L598.84,299.91 L597.52,301.05 L596.19,302.18 L594.83,303.28 L593.45,304.37 L592.05,305.43 L592.05,306.00 L567.51,306.00 L567.51,305.44 L568.95,304.76 L570.37,304.06 L571.78,303.34 L573.17,302.59 L574.55,301.83 L575.91,301.04 L577.25,300.24 L578.58,299.41 L579.89,298.57 L581.18,297.71 L582.46,296.82 L583.71,295.92 L584.95,295.01 L586.17,294.07 L587.36,293.12 L588.54,292.14 L589.70,291.16 L590.84,290.15 L591.95,289.13 L593.05,288.09 L594.12,287.04 L595.17,285.97 L596.20,284.88 L597.20,283.78 L598.18,282.67 L599.14,281.54 L600.08,280.40 L600.99,279.24 L601.88,278.08 L602.74,276.89 L603.58,275.70 L604.39,274.49 L605.18,273.28 L605.94,272.05 L606.68,270.81 L607.39,269.56 L608.07,268.29 L608.73,267.02 L609.36,265.74 L609.97,264.45 L610.54,263.16 L611.10,261.85 L611.62,260.54 L612.12,259.21 L612.59,257.89 L613.03,256.55 L613.44,255.21 L613.83,253.86 L614.18,252.51 L614.51,251.15 L614.81,249.79 L615.09,248.42 L615.33,247.05 L615.54,245.68 L615.73,244.30 L615.89,242.92 L616.02,241.54 L616.12,240.16 L616.19,238.77 L616.24,237.39 L616.25,236.00 L616.25,236.00 L616.24,234.56 L616.19,233.14 L616.12,231.72 L616.02,230.31 L615.89,228.91 L615.74,227.51 L615.55,226.12 L615.34,224.73 L615.10,223.35 L614.83,221.97 L614.53,220.60 L614.20,219.23 L613.85,217.87 L613.47,216.52 L613.06,215.17 L612.62,213.83 L612.16,212.50 L611.66,211.18 L611.15,209.86 L610.60,208.55 L610.03,207.26 L609.43,205.97 L608.80,204.69 L608.15,203.42 L607.47,202.16 L606.77,200.91 L606.04,199.67 L605.28,198.44 L604.50,197.23 L603.69,196.03 L602.86,194.84 L602.01,193.66 L601.13,192.49 L600.22,191.34 L599.29,190.21 L598.34,189.08 L597.37,187.98 L596.37,186.88 L595.35,185.80 L594.31,184.74 L593.24,183.69 L592.16,182.66 L591.05,181.64 L589.92,180.64 L588.77,179.66 L587.60,178.70 L586.41,177.75 L585.20,176.82 L583.97,175.91 L582.72,175.02 L581.46,174.14 L580.17,173.28 L578.87,172.45 L577.55,171.63 L576.21,170.83 L574.85,170.05 L573.48,169.29 L572.10,168.56 L570.69,167.84 L569.28,167.14 L567.84,166.46 L566.40,165.81 L564.93,165.17 L563.46,164.56 L561.97,163.97 L560.47,163.40 L558.96,162.85 L557.43,162.33 L555.90,161.82 L554.35,161.34 L552.79,160.88 L551.22,160.45 L549.65,160.04 L548.06,159.65 L546.46,159.28 L544.86,158.94 L543.25,158.62 L541.63,158.32 L540.00,158.04 L538.36,157.79 L536.72,157.57 L535.08,157.37 L533.42,157.19 L531.76,157.03 L530.10,156.90 L528.43,156.79 L526.75,156.71 L525.06,156.65 L523.37,156.61 L521.65,156.60 L519.93,156.61 L518.24,156.65 L516.55,156.71 L514.87,156.79 L513.20,156.90 L511.54,157.03 L509.88,157.19 L508.22,157.37 L506.58,157.57 L504.94,157.79 L503.30,158.04 L501.67,158.32 L500.05,158.62 L498.44,158.94 L496.84,159.28 L495.24,159.65 L493.65,160.04 L492.08,160.45 L490.51,160.88 L488.95,161.34 L487.40,161.82 L485.87,162.33 L484.34,162.85 L482.83,163.40 L481.33,163.97 L479.84,164.56 L478.37,165.17 L476.90,165.81 L475.46,166.46 L474.02,167.14 L472.61,167.84 L471.20,168.56 L469.82,169.29 L468.45,170.05 L467.09,170.83 L465.75,171.63 L464.43,172.45 L463.13,173.28 L461.84,174.14 L460.58,175.02 L459.33,175.91 L458.10,176.82 L456.89,177.75 L455.70,178.70 L454.53,179.66 L453.38,180.64 L452.25,181.64 L451.14,182.66 L450.06,183.69 L448.99,184.74 L447.95,185.80 L446.93,186.88 L445.93,187.98 L444.96,189.08 L444.01,190.21 L443.08,191.34 L442.17,192.49 L441.29,193.66 L440.44,194.84 L439.61,196.03 L438.80,197.23 L438.02,198.44 L437.26,199.67 L436.53,200.91 L435.83,202.16 L435.15,203.42 L434.50,204.69 L433.87,205.97 L433.27,207.26 L432.70,208.55 L432.15,209.86 L431.64,211.18 L431.14,212.50 L430.68,213.83 L430.24,215.17 L429.83,216.52 L429.45,217.87 L429.10,219.23 L428.77,220.60 L428.47,221.97 L428.20,223.35 L427.96,224.73 L427.75,226.12 L427.56,227.51 L427.41,228.91 L427.28,230.31 L427.18,231.72 L427.11,233.14 L427.06,234.56 L427.05,236.00 L427.05,236.00 L427.06,237.39 L427.11,238.77 L427.18,240.16 L427.28,241.54 L427.41,242.92 L427.57,244.30 L427.76,245.68 L427.97,247.05 L428.21,248.42 L428.49,249.79 L428.79,251.15 L429.12,252.51 L429.47,253.86 L429.86,255.21 L430.27,256.55 L430.71,257.89 L431.18,259.21 L431.68,260.54 L432.20,261.85 L432.76,263.16 L433.33,264.45 L433.94,265.74 L434.57,267.02 L435.23,268.29 L435.91,269.56 L436.62,270.81 L437.36,272.05 L438.12,273.28 L438.91,274.49 L439.72,275.70 L440.56,276.89 L441.42,278.08 L442.31,279.24 L443.22,280.40 L444.16,281.54 L445.12,282.67 L446.10,283.78 L447.10,284.88 L448.13,285.97 L449.18,287.04 L450.25,288.09 L451.35,289.13 L452.46,290.15 L453.60,291.16 L454.76,292.14 L455.94,293.12 L457.13,294.07 L458.35,295.01 L459.59,295.92 L460.84,296.82 L462.12,297.71 L463.41,298.57 L464.72,299.41 L466.05,300.24 L467.39,301.04 L468.75,301.83 L470.13,302.59 L471.52,303.34 L472.93,304.06 L474.35,304.76 L475.79,305.44 L475.79,306.00 L451.25,306.00 Z" fill="#1f2b52"/><path d="M709.48,305.06 L708.10,303.88 L706.74,302.69 L705.40,301.47 L704.09,300.24 L702.80,298.98 L701.54,297.71 L700.30,296.41 L699.09,295.10 L697.91,293.77 L696.76,292.43 L695.63,291.06 L694.53,289.68 L693.46,288.29 L692.41,286.87 L691.40,285.44 L690.41,284.00 L689.45,282.54 L688.53,281.07 L687.63,279.58 L686.76,278.08 L685.93,276.57 L685.12,275.05 L684.35,273.51 L683.60,271.96 L682.89,270.40 L682.21,268.83 L681.56,267.25 L680.95,265.67 L680.36,264.07 L679.81,262.46 L679.29,260.85 L678.81,259.22 L678.35,257.60 L677.93,255.96 L677.54,254.32 L677.19,252.67 L676.87,251.02 L676.58,249.36 L676.33,247.70 L676.11,246.03 L675.92,244.37 L675.77,242.70 L675.65,241.02 L675.57,239.35 L675.52,237.68 L675.50,236.00 L675.50,236.00 L675.52,233.89 L675.56,231.95 L675.64,230.06 L675.76,228.21 L675.90,226.39 L676.08,224.60 L676.28,222.82 L676.52,221.06 L676.79,219.32 L677.10,217.59 L677.43,215.88 L677.80,214.18 L678.19,212.50 L678.62,210.83 L679.08,209.18 L679.57,207.54 L680.09,205.91 L680.65,204.30 L681.23,202.70 L681.84,201.11 L682.49,199.54 L683.16,197.98 L683.87,196.44 L684.60,194.91 L685.36,193.40 L686.16,191.91 L686.98,190.42 L687.83,188.96 L688.71,187.51 L689.62,186.08 L690.56,184.66 L691.53,183.27 L692.52,181.89 L693.54,180.52 L694.59,179.18 L695.67,177.85 L696.77,176.54 L697.90,175.25 L699.06,173.98 L700.24,172.73 L701.45,171.50 L702.69,170.29 L703.95,169.09 L705.23,167.92 L706.54,166.77 L707.87,165.64 L709.23,164.54 L710.61,163.45 L712.02,162.38 L713.45,161.34 L714.90,160.32 L716.37,159.32 L717.86,158.35 L719.38,157.40 L720.92,156.47 L722.48,155.56 L724.06,154.68 L725.66,153.82 L727.28,152.99 L728.92,152.18 L730.58,151.40 L732.26,150.64 L733.96,149.90 L735.68,149.19 L737.41,148.51 L739.17,147.85 L740.94,147.22 L742.72,146.61 L744.53,146.03 L746.35,145.47 L748.19,144.94 L750.04,144.44 L751.91,143.96 L753.80,143.51 L755.70,143.09 L757.62,142.69 L759.56,142.32 L761.51,141.98 L763.48,141.66 L765.46,141.38 L767.46,141.12 L769.48,140.88 L771.52,140.68 L773.58,140.50 L775.66,140.34 L777.77,140.22 L779.92,140.12 L782.10,140.06 L784.36,140.01 L786.80,140.00 L789.24,140.01 L791.50,140.06 L793.68,140.12 L795.83,140.22 L797.94,140.34 L800.02,140.50 L802.08,140.68 L804.12,140.88 L806.14,141.12 L808.14,141.38 L810.12,141.66 L812.09,141.98 L814.04,142.32 L815.98,142.69 L817.90,143.09 L819.80,143.51 L821.69,143.96 L823.56,144.44 L825.41,144.94 L827.25,145.47 L829.07,146.03 L830.88,146.61 L832.66,147.22 L834.43,147.85 L836.19,148.51 L837.92,149.19 L839.64,149.90 L841.34,150.64 L843.02,151.40 L844.68,152.18 L846.32,152.99 L847.94,153.82 L849.54,154.68 L851.12,155.56 L852.68,156.47 L854.22,157.40 L855.74,158.35 L857.23,159.32 L858.70,160.32 L860.15,161.34 L861.58,162.38 L862.99,163.45 L864.37,164.54 L865.73,165.64 L867.06,166.77 L868.37,167.92 L869.65,169.09 L870.91,170.29 L872.15,171.50 L873.36,172.73 L874.54,173.98 L875.70,175.25 L876.83,176.54 L877.93,177.85 L879.01,179.18 L880.06,180.52 L881.08,181.89 L882.07,183.27 L883.04,184.66 L883.98,186.08 L884.89,187.51 L885.77,188.96 L886.62,190.42 L887.44,191.91 L888.24,193.40 L889.00,194.91 L889.73,196.44 L890.44,197.98 L891.11,199.54 L891.76,201.11 L892.37,202.70 L892.95,204.30 L893.51,205.91 L894.03,207.54 L894.52,209.18 L894.98,210.83 L895.41,212.50 L895.80,214.18 L896.17,215.88 L896.50,217.59 L896.81,219.32 L897.08,221.06 L897.32,222.82 L897.52,224.60 L897.70,226.39 L897.84,228.21 L897.96,230.06 L898.04,231.95 L898.08,233.89 L898.10,236.00 L898.10,236.00 L898.08,237.68 L898.03,239.35 L897.95,241.02 L897.83,242.70 L897.68,244.37 L897.49,246.03 L897.27,247.70 L897.02,249.36 L896.73,251.02 L896.41,252.67 L896.06,254.32 L895.67,255.96 L895.25,257.60 L894.79,259.22 L894.31,260.85 L893.79,262.46 L893.24,264.07 L892.65,265.67 L892.04,267.25 L891.39,268.83 L890.71,270.40 L890.00,271.96 L889.25,273.51 L888.48,275.05 L887.67,276.57 L886.84,278.08 L885.97,279.58 L885.07,281.07 L884.15,282.54 L883.19,284.00 L882.20,285.44 L881.19,286.87 L880.14,288.29 L879.07,289.68 L877.97,291.06 L876.84,292.43 L875.69,293.77 L874.51,295.10 L873.30,296.41 L872.06,297.71 L870.80,298.98 L869.51,300.24 L868.20,301.47 L866.86,302.69 L865.50,303.88 L864.12,305.06 L864.12,306.00 L820.74,306.00 L820.74,305.91 L822.20,305.41 L823.65,304.88 L825.09,304.34 L826.52,303.77 L827.93,303.18 L829.33,302.57 L830.72,301.95 L832.10,301.30 L833.46,300.63 L834.81,299.94 L836.14,299.24 L837.46,298.51 L838.77,297.76 L840.05,297.00 L841.32,296.22 L842.58,295.42 L843.82,294.60 L845.04,293.76 L846.24,292.91 L847.42,292.03 L848.59,291.14 L849.74,290.24 L850.86,289.32 L851.97,288.38 L853.06,287.42 L854.13,286.45 L855.18,285.47 L856.20,284.47 L857.21,283.45 L858.19,282.42 L859.16,281.38 L860.10,280.32 L861.02,279.25 L861.91,278.16 L862.78,277.07 L863.63,275.96 L864.46,274.83 L865.26,273.70 L866.04,272.55 L866.80,271.40 L867.53,270.23 L868.23,269.05 L868.91,267.87 L869.57,266.67 L870.20,265.46 L870.80,264.25 L871.38,263.02 L871.94,261.79 L872.46,260.55 L872.97,259.30 L873.44,258.04 L873.89,256.78 L874.31,255.51 L874.71,254.24 L875.08,252.96 L875.42,251.68 L875.74,250.39 L876.02,249.09 L876.28,247.80 L876.52,246.49 L876.72,245.19 L876.90,243.88 L877.06,242.57 L877.18,241.26 L877.28,239.95 L877.34,238.63 L877.39,237.32 L877.40,236.00 L877.40,236.00 L877.39,234.63 L877.35,233.28 L877.28,231.94 L877.18,230.60 L877.06,229.27 L876.91,227.94 L876.73,226.62 L876.53,225.30 L876.30,223.99 L876.04,222.68 L875.75,221.38 L875.44,220.08 L875.10,218.79 L874.74,217.50 L874.34,216.22 L873.92,214.95 L873.48,213.69 L873.01,212.43 L872.51,211.18 L871.99,209.94 L871.44,208.70 L870.87,207.48 L870.27,206.26 L869.64,205.06 L868.99,203.86 L868.32,202.68 L867.62,201.50 L866.89,200.34 L866.15,199.18 L865.37,198.04 L864.58,196.91 L863.76,195.79 L862.92,194.69 L862.05,193.59 L861.16,192.51 L860.25,191.45 L859.32,190.39 L858.36,189.36 L857.39,188.33 L856.39,187.32 L855.37,186.33 L854.33,185.35 L853.27,184.38 L852.19,183.43 L851.08,182.50 L849.96,181.58 L848.82,180.68 L847.66,179.80 L846.49,178.94 L845.29,178.09 L844.08,177.26 L842.85,176.44 L841.60,175.65 L840.33,174.87 L839.05,174.11 L837.76,173.37 L836.44,172.65 L835.11,171.95 L833.77,171.27 L832.41,170.61 L831.04,169.97 L829.65,169.34 L828.25,168.74 L826.84,168.16 L825.42,167.60 L823.98,167.06 L822.53,166.54 L821.07,166.04 L819.60,165.56 L818.12,165.10 L816.63,164.67 L815.12,164.25 L813.61,163.86 L812.09,163.49 L810.56,163.14 L809.03,162.82 L807.48,162.51 L805.93,162.23 L804.37,161.97 L802.81,161.73 L801.24,161.52 L799.66,161.33 L798.07,161.16 L796.48,161.01 L794.89,160.88 L793.29,160.78 L791.68,160.70 L790.07,160.65 L788.45,160.61 L786.80,160.60 L785.15,160.61 L783.53,160.65 L781.92,160.70 L780.31,160.78 L778.71,160.88 L777.12,161.01 L775.53,161.16 L773.94,161.33 L772.36,161.52 L770.79,161.73 L769.23,161.97 L767.67,162.23 L766.12,162.51 L764.57,162.82 L763.04,163.14 L761.51,163.49 L759.99,163.86 L758.48,164.25 L756.97,164.67 L755.48,165.10 L754.00,165.56 L752.53,166.04 L751.07,166.54 L749.62,167.06 L748.18,167.60 L746.76,168.16 L745.35,168.74 L743.95,169.34 L742.56,169.97 L741.19,170.61 L739.83,171.27 L738.49,171.95 L737.16,172.65 L735.84,173.37 L734.55,174.11 L733.27,174.87 L732.00,175.65 L730.75,176.44 L729.52,177.26 L728.31,178.09 L727.11,178.94 L725.94,179.80 L724.78,180.68 L723.64,181.58 L722.52,182.50 L721.41,183.43 L720.33,184.38 L719.27,185.35 L718.23,186.33 L717.21,187.32 L716.21,188.33 L715.24,189.36 L714.28,190.39 L713.35,191.45 L712.44,192.51 L711.55,193.59 L710.68,194.69 L709.84,195.79 L709.02,196.91 L708.23,198.04 L707.45,199.18 L706.71,200.34 L705.98,201.50 L705.28,202.68 L704.61,203.86 L703.96,205.06 L703.33,206.26 L702.73,207.48 L702.16,208.70 L701.61,209.94 L701.09,211.18 L700.59,212.43 L700.12,213.69 L699.68,214.95 L699.26,216.22 L698.86,217.50 L698.50,218.79 L698.16,220.08 L697.85,221.38 L697.56,222.68 L697.30,223.99 L697.07,225.30 L696.87,226.62 L696.69,227.94 L696.54,229.27 L696.42,230.60 L696.32,231.94 L696.25,233.28 L696.21,234.63 L696.20,236.00 L696.20,236.00 L696.21,237.32 L696.26,238.63 L696.32,239.95 L696.42,241.26 L696.54,242.57 L696.70,243.88 L696.88,245.19 L697.08,246.49 L697.32,247.80 L697.58,249.09 L697.86,250.39 L698.18,251.68 L698.52,252.96 L698.89,254.24 L699.29,255.51 L699.71,256.78 L700.16,258.04 L700.63,259.30 L701.14,260.55 L701.66,261.79 L702.22,263.02 L702.80,264.25 L703.40,265.46 L704.03,266.67 L704.69,267.87 L705.37,269.05 L706.07,270.23 L706.80,271.40 L707.56,272.55 L708.34,273.70 L709.14,274.83 L709.97,275.96 L710.82,277.07 L711.69,278.16 L712.58,279.25 L713.50,280.32 L714.44,281.38 L715.41,282.42 L716.39,283.45 L717.40,284.47 L718.42,285.47 L719.47,286.45 L720.54,287.42 L721.63,288.38 L722.74,289.32 L723.86,290.24 L725.01,291.14 L726.18,292.03 L727.36,292.91 L728.56,293.76 L729.78,294.60 L731.02,295.42 L732.28,296.22 L733.55,297.00 L734.83,297.76 L736.14,298.51 L737.46,299.24 L738.79,299.94 L740.14,300.63 L741.50,301.30 L742.88,301.95 L744.27,302.57 L745.67,303.18 L747.08,303.77 L748.51,304.34 L749.95,304.88 L751.40,305.41 L752.86,305.91 L752.86,306.00 L709.48,306.00 Z" fill="#000"/><path d="M716.40,305.43 L715.00,304.37 L713.62,303.28 L712.26,302.18 L710.93,301.05 L709.61,299.91 L708.33,298.74 L707.06,297.56 L705.82,296.36 L704.60,295.14 L703.41,293.90 L702.25,292.64 L701.11,291.37 L699.99,290.08 L698.90,288.77 L697.84,287.45 L696.81,286.11 L695.80,284.75 L694.83,283.38 L693.88,282.00 L692.95,280.60 L692.06,279.19 L691.19,277.77 L690.36,276.33 L689.55,274.88 L688.78,273.42 L688.03,271.95 L687.31,270.46 L686.63,268.97 L685.97,267.47 L685.35,265.95 L684.75,264.43 L684.19,262.90 L683.66,261.36 L683.16,259.81 L682.69,258.26 L682.25,256.70 L681.84,255.13 L681.47,253.55 L681.13,251.98 L680.82,250.39 L680.54,248.80 L680.30,247.21 L680.09,245.62 L679.91,244.02 L679.76,242.42 L679.65,240.81 L679.57,239.21 L679.52,237.61 L679.50,236.00 L679.50,236.00 L679.52,233.98 L679.56,232.12 L679.64,230.31 L679.75,228.54 L679.89,226.79 L680.05,225.07 L680.25,223.37 L680.49,221.68 L680.75,220.01 L681.04,218.36 L681.36,216.72 L681.71,215.09 L682.10,213.48 L682.51,211.88 L682.95,210.30 L683.43,208.72 L683.93,207.16 L684.46,205.62 L685.02,204.08 L685.62,202.56 L686.24,201.06 L686.89,199.57 L687.57,198.09 L688.27,196.63 L689.01,195.18 L689.78,193.74 L690.57,192.32 L691.39,190.92 L692.24,189.53 L693.12,188.16 L694.02,186.80 L694.95,185.46 L695.91,184.14 L696.90,182.83 L697.91,181.54 L698.94,180.27 L700.01,179.02 L701.10,177.78 L702.21,176.56 L703.35,175.37 L704.52,174.19 L705.71,173.02 L706.92,171.88 L708.16,170.76 L709.42,169.66 L710.71,168.58 L712.02,167.51 L713.35,166.47 L714.71,165.45 L716.08,164.45 L717.48,163.47 L718.90,162.52 L720.34,161.58 L721.80,160.67 L723.29,159.78 L724.79,158.91 L726.32,158.07 L727.86,157.25 L729.42,156.45 L731.00,155.67 L732.60,154.92 L734.22,154.19 L735.86,153.49 L737.51,152.81 L739.19,152.15 L740.88,151.52 L742.58,150.92 L744.31,150.33 L746.05,149.78 L747.80,149.24 L749.58,148.74 L751.36,148.25 L753.17,147.80 L754.99,147.37 L756.82,146.96 L758.67,146.58 L760.54,146.23 L762.42,145.90 L764.31,145.60 L766.23,145.32 L768.16,145.07 L770.10,144.84 L772.07,144.65 L774.05,144.48 L776.06,144.33 L778.10,144.21 L780.16,144.12 L782.27,144.05 L784.45,144.01 L786.80,144.00 L789.15,144.01 L791.33,144.05 L793.44,144.12 L795.50,144.21 L797.54,144.33 L799.55,144.48 L801.53,144.65 L803.50,144.84 L805.44,145.07 L807.37,145.32 L809.29,145.60 L811.18,145.90 L813.06,146.23 L814.93,146.58 L816.78,146.96 L818.61,147.37 L820.43,147.80 L822.24,148.25 L824.02,148.74 L825.80,149.24 L827.55,149.78 L829.29,150.33 L831.02,150.92 L832.72,151.52 L834.41,152.15 L836.09,152.81 L837.74,153.49 L839.38,154.19 L841.00,154.92 L842.60,155.67 L844.18,156.45 L845.74,157.25 L847.28,158.07 L848.81,158.91 L850.31,159.78 L851.80,160.67 L853.26,161.58 L854.70,162.52 L856.12,163.47 L857.52,164.45 L858.89,165.45 L860.25,166.47 L861.58,167.51 L862.89,168.58 L864.18,169.66 L865.44,170.76 L866.68,171.88 L867.89,173.02 L869.08,174.19 L870.25,175.37 L871.39,176.56 L872.50,177.78 L873.59,179.02 L874.66,180.27 L875.69,181.54 L876.70,182.83 L877.69,184.14 L878.65,185.46 L879.58,186.80 L880.48,188.16 L881.36,189.53 L882.21,190.92 L883.03,192.32 L883.82,193.74 L884.59,195.18 L885.33,196.63 L886.03,198.09 L886.71,199.57 L887.36,201.06 L887.98,202.56 L888.58,204.08 L889.14,205.62 L889.67,207.16 L890.17,208.72 L890.65,210.30 L891.09,211.88 L891.50,213.48 L891.89,215.09 L892.24,216.72 L892.56,218.36 L892.85,220.01 L893.11,221.68 L893.35,223.37 L893.55,225.07 L893.71,226.79 L893.85,228.54 L893.96,230.31 L894.04,232.12 L894.08,233.98 L894.10,236.00 L894.10,236.00 L894.08,237.61 L894.03,239.21 L893.95,240.81 L893.84,242.42 L893.69,244.02 L893.51,245.62 L893.30,247.21 L893.06,248.80 L892.78,250.39 L892.47,251.98 L892.13,253.55 L891.76,255.13 L891.35,256.70 L890.91,258.26 L890.44,259.81 L889.94,261.36 L889.41,262.90 L888.85,264.43 L888.25,265.95 L887.63,267.47 L886.97,268.97 L886.29,270.46 L885.57,271.95 L884.82,273.42 L884.05,274.88 L883.24,276.33 L882.41,277.77 L881.54,279.19 L880.65,280.60 L879.72,282.00 L878.77,283.38 L877.80,284.75 L876.79,286.11 L875.76,287.45 L874.70,288.77 L873.61,290.08 L872.49,291.37 L871.35,292.64 L870.19,293.90 L869.00,295.14 L867.78,296.36 L866.54,297.56 L865.27,298.74 L863.99,299.91 L862.67,301.05 L861.34,302.18 L859.98,303.28 L858.60,304.37 L857.20,305.43 L857.20,306.00 L832.66,306.00 L832.66,305.44 L834.10,304.76 L835.52,304.06 L836.93,303.34 L838.32,302.59 L839.70,301.83 L841.06,301.04 L842.40,300.24 L843.73,299.41 L845.04,298.57 L846.33,297.71 L847.61,296.82 L848.86,295.92 L850.10,295.01 L851.32,294.07 L852.51,293.12 L853.69,292.14 L854.85,291.16 L855.99,290.15 L857.10,289.13 L858.20,288.09 L859.27,287.04 L860.32,285.97 L861.35,284.88 L862.35,283.78 L863.33,282.67 L864.29,281.54 L865.23,280.40 L866.14,279.24 L867.03,278.08 L867.89,276.89 L868.73,275.70 L869.54,274.49 L870.33,273.28 L871.09,272.05 L871.83,270.81 L872.54,269.56 L873.22,268.29 L873.88,267.02 L874.51,265.74 L875.12,264.45 L875.69,263.16 L876.25,261.85 L876.77,260.54 L877.27,259.21 L877.74,257.89 L878.18,256.55 L878.59,255.21 L878.98,253.86 L879.33,252.51 L879.66,251.15 L879.96,249.79 L880.24,248.42 L880.48,247.05 L880.69,245.68 L880.88,244.30 L881.04,242.92 L881.17,241.54 L881.27,240.16 L881.34,238.77 L881.39,237.39 L881.40,236.00 L881.40,236.00 L881.39,234.56 L881.34,233.14 L881.27,231.72 L881.17,230.31 L881.04,228.91 L880.89,227.51 L880.70,226.12 L880.49,224.73 L880.25,223.35 L879.98,221.97 L879.68,220.60 L879.35,219.23 L879.00,217.87 L878.62,216.52 L878.21,215.17 L877.77,213.83 L877.31,212.50 L876.81,211.18 L876.30,209.86 L875.75,208.55 L875.18,207.26 L874.58,205.97 L873.95,204.69 L873.30,203.42 L872.62,202.16 L871.92,200.91 L871.19,199.67 L870.43,198.44 L869.65,197.23 L868.84,196.03 L868.01,194.84 L867.16,193.66 L866.28,192.49 L865.37,191.34 L864.44,190.21 L863.49,189.08 L862.52,187.98 L861.52,186.88 L860.50,185.80 L859.46,184.74 L858.39,183.69 L857.31,182.66 L856.20,181.64 L855.07,180.64 L853.92,179.66 L852.75,178.70 L851.56,177.75 L850.35,176.82 L849.12,175.91 L847.87,175.02 L846.61,174.14 L845.32,173.28 L844.02,172.45 L842.70,171.63 L841.36,170.83 L840.00,170.05 L838.63,169.29 L837.25,168.56 L835.84,167.84 L834.43,167.14 L832.99,166.46 L831.55,165.81 L830.08,165.17 L828.61,164.56 L827.12,163.97 L825.62,163.40 L824.11,162.85 L822.58,162.33 L821.05,161.82 L819.50,161.34 L817.94,160.88 L816.37,160.45 L814.80,160.04 L813.21,159.65 L811.61,159.28 L810.01,158.94 L808.40,158.62 L806.78,158.32 L805.15,158.04 L803.51,157.79 L801.87,157.57 L800.23,157.37 L798.57,157.19 L796.91,157.03 L795.25,156.90 L793.58,156.79 L791.90,156.71 L790.21,156.65 L788.52,156.61 L786.80,156.60 L785.08,156.61 L783.39,156.65 L781.70,156.71 L780.02,156.79 L778.35,156.90 L776.69,157.03 L775.03,157.19 L773.37,157.37 L771.73,157.57 L770.09,157.79 L768.45,158.04 L766.82,158.32 L765.20,158.62 L763.59,158.94 L761.99,159.28 L760.39,159.65 L758.80,160.04 L757.23,160.45 L755.66,160.88 L754.10,161.34 L752.55,161.82 L751.02,162.33 L749.49,162.85 L747.98,163.40 L746.48,163.97 L744.99,164.56 L743.52,165.17 L742.05,165.81 L740.61,166.46 L739.17,167.14 L737.76,167.84 L736.35,168.56 L734.97,169.29 L733.60,170.05 L732.24,170.83 L730.90,171.63 L729.58,172.45 L728.28,173.28 L726.99,174.14 L725.73,175.02 L724.48,175.91 L723.25,176.82 L722.04,177.75 L720.85,178.70 L719.68,179.66 L718.53,180.64 L717.40,181.64 L716.29,182.66 L715.21,183.69 L714.14,184.74 L713.10,185.80 L712.08,186.88 L711.08,187.98 L710.11,189.08 L709.16,190.21 L708.23,191.34 L707.32,192.49 L706.44,193.66 L705.59,194.84 L704.76,196.03 L703.95,197.23 L703.17,198.44 L702.41,199.67 L701.68,200.91 L700.98,202.16 L700.30,203.42 L699.65,204.69 L699.02,205.97 L698.42,207.26 L697.85,208.55 L697.30,209.86 L696.79,211.18 L696.29,212.50 L695.83,213.83 L695.39,215.17 L694.98,216.52 L694.60,217.87 L694.25,219.23 L693.92,220.60 L693.62,221.97 L693.35,223.35 L693.11,224.73 L692.90,226.12 L692.71,227.51 L692.56,228.91 L692.43,230.31 L692.33,231.72 L692.26,233.14 L692.21,234.56 L692.20,236.00 L692.20,236.00 L692.21,237.39 L692.26,238.77 L692.33,240.16 L692.43,241.54 L692.56,242.92 L692.72,244.30 L692.91,245.68 L693.12,247.05 L693.36,248.42 L693.64,249.79 L693.94,251.15 L694.27,252.51 L694.62,253.86 L695.01,255.21 L695.42,256.55 L695.86,257.89 L696.33,259.21 L696.83,260.54 L697.35,261.85 L697.91,263.16 L698.48,264.45 L699.09,265.74 L699.72,267.02 L700.38,268.29 L701.06,269.56 L701.77,270.81 L702.51,272.05 L703.27,273.28 L704.06,274.49 L704.87,275.70 L705.71,276.89 L706.57,278.08 L707.46,279.24 L708.37,280.40 L709.31,281.54 L710.27,282.67 L711.25,283.78 L712.25,284.88 L713.28,285.97 L714.33,287.04 L715.40,288.09 L716.50,289.13 L717.61,290.15 L718.75,291.16 L719.91,292.14 L721.09,293.12 L722.28,294.07 L723.50,295.01 L724.74,295.92 L725.99,296.82 L727.27,297.71 L728.56,298.57 L729.87,299.41 L731.20,300.24 L732.54,301.04 L733.90,301.83 L735.28,302.59 L736.67,303.34 L738.08,304.06 L739.50,304.76 L740.94,305.44 L740.94,306.00 L716.40,306.00 Z" fill="#1f2b52"/></g><rect x="8" y="299.8" width="137.0" height="29.1" fill="#1f2b52"/><rect x="278" y="299.8" width="196.0" height="29.1" fill="#1f2b52"/><rect x="570" y="299.8" width="170.5" height="29.1" fill="#1f2b52"/><rect x="836" y="299.8" width="526.2" height="29.1" fill="#1f2b52"/><rect x="988.5" y="299.8" width="70.5" height="29.1" fill="#f0e93b"/><rect x="1325.5" y="299.8" width="36.7" height="29.1" fill="#e9221f"/><path d="M53.1,345.6 V357.5 H896.7 V347" fill="none" stroke="#080808" stroke-width="3.6" stroke-linejoin="round" stroke-linecap="round"/><path d="M1325.5,340.4 V352.1 H1362 V340.4" fill="none" stroke="#080808" stroke-width="3.4" stroke-linejoin="miter"/><path d="M1248.3,526.3 V513.9 H1420 V526.3" fill="none" stroke="#080808" stroke-width="3.5" stroke-linejoin="miter"/><line x1="837.82" y1="500.66" x2="1298.88" y2="367.34" stroke="#000" stroke-width="3.3"/><path d="M1322.90,360.40 L1293.78,378.50 L1288.62,360.63 Z" fill="#000"/><path d="M813.80,507.60 L842.92,489.50 L848.08,507.37 Z" fill="#000"/><line x1="1475" y1="549.8" x2="1575" y2="549.8" stroke="#000" stroke-width="3.6"/><path d="M1594.00,549.60 L1560.50,559.20 L1560.50,540.00 Z" fill="#000"/><path d="M1454.00,550.00 L1488.00,540.40 L1488.00,559.60 Z" fill="#000"/><rect x="9" y="532.2" width="1412.5" height="32.0" fill="#fff"/><rect x="62.3" y="532.2" width="57.4" height="32.0" fill="#ec8f2a"/><rect x="188.1" y="532.2" width="57.6" height="32.0" fill="#ec8f2a"/><rect x="326.2" y="532.2" width="57.4" height="32.0" fill="#5bbfc4"/><rect x="486.1" y="532.2" width="122.9" height="32.0" fill="#6ab52d"/><rect x="726.2" y="532.2" width="83.4" height="32.0" fill="#ea1f1b"/><rect x="923.4" y="532.2" width="24.0" height="32.0" fill="#168d45"/><rect x="1062.5" y="532.2" width="33.6" height="32.0" fill="#168d45"/><rect x="1242.1" y="532.2" width="179.4" height="32.0" fill="#f3a19c"/><rect x="1278" y="532.2" width="26.4" height="32.0" fill="#168d45"/><rect x="9" y="532.2" width="1412.5" height="32.0" fill="none" stroke="#5e5e5e" stroke-width="2.5"/><ellipse cx="1721.5" cy="547" rx="109.6" ry="25.4" fill="#b9252f" stroke="#741a1f" stroke-width="2"/></g><g font-family="Liberation Sans, sans-serif" font-size="32" fill="#1e1e1e" stroke="#1e1e1e" stroke-width="0.7"><text transform="translate(44.8,27.3) scale(1.006,1.04)">Nectin (–1, –2, –3, –4)</text><text transform="translate(393.2,402.8) scale(1.006,1.04)">V-C-C domin</text><text transform="translate(1372.6,386.7) scale(1.006,1.04)">Glu/Ala-X-Tyr-Val</text><text transform="translate(1230.0,291.7) scale(1.006,1.04)">Conserved Motif</text><text transform="translate(998.9,291.2) scale(1.006,1.04)">TM</text><text transform="translate(13.8,508.3) scale(1.006,1.04)">Afadin</text><text transform="translate(1198.0,496.9) scale(1.006,1.04)">F-actin-binding domain</text><text transform="translate(1652.8,497.9) scale(1.006,1.04)">F-actin</text><text transform="translate(64.1,603.8) scale(1.006,1.04)">RA</text><text transform="translate(190.7,603.8) scale(1.006,1.04)">RA</text><text transform="translate(318.3,603.8) scale(1.006,1.04)">FHA</text><text transform="translate(509.2,603.8) scale(1.006,1.04)">DIL</text><text transform="translate(729.1,603.8) scale(1.006,1.04)">PDZ</text><text transform="translate(893.9,603.8) scale(1.006,1.04)">PR(1)</text><text transform="translate(1033.1,603.8) scale(1.006,1.04)">PR(2)</text><text transform="translate(1248.8,603.8) scale(1.006,1.04)">PR(3)</text></g></svg><div style="position:absolute;left:0;top:615px;width:1834px;height:3px;background:#000"></div></body></html>
